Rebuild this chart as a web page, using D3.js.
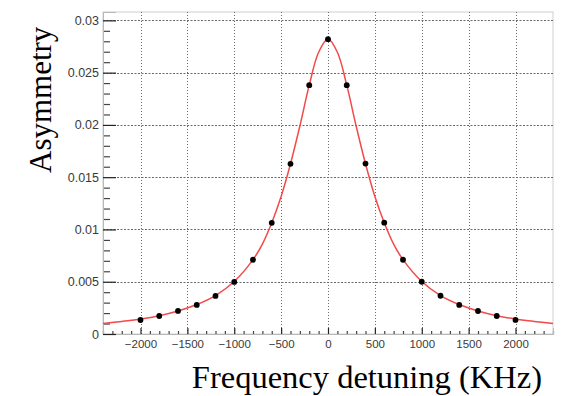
<!DOCTYPE html>
<html>
<head>
<meta charset="utf-8">
<script src="https://cdn.jsdelivr.net/npm/d3@7"></script>
<style>
  body { margin: 0; background: #fff; }
  svg { display: block; }
</style>
</head>
<body>
<div id="chart"></div>
<script>
// measured points (detuning in KHz, asymmetry)
var detuning = [-2000, -1800, -1600, -1400, -1200, -1000, -800, -600, -400, -200, 0,
                200, 400, 600, 800, 1000, 1200, 1400, 1600, 1800, 2000];
var asymmetry = [0.00134, 0.00172, 0.00221, 0.00278, 0.00364, 0.00498, 0.00710, 0.01063, 0.01628, 0.02380, 0.02820,
                 0.02380, 0.01630, 0.01065, 0.00710, 0.00500, 0.00366, 0.00278, 0.00220, 0.00172, 0.00135];

// fitted curve
var fit_x = [-2400, -2200, -2000, -1800, -1600, -1400, -1200, -1000, -800, -700, -600, -500, -400, -300, -200, -100, 0,
             100, 200, 300, 400, 500, 600, 700, 800, 1000, 1200, 1400, 1600, 1800, 2000, 2200, 2400];
var fit_y = [0.00100, 0.00120, 0.00143, 0.00175, 0.00220, 0.00282, 0.00368, 0.00502, 0.00711, 0.00860, 0.01064, 0.01315, 0.01628, 0.01990, 0.02380, 0.02695, 0.02822,
             0.02695, 0.02380, 0.01990, 0.01628, 0.01315, 0.01064, 0.00860, 0.00711, 0.00502, 0.00368, 0.00282, 0.00220, 0.00175, 0.00143, 0.00120, 0.00100];

var x_ticks = [-2000, -1500, -1000, -500, 0, 500, 1000, 1500, 2000];
var x_tick_labels = ['\u22122000', '\u22121500', '\u22121000', '\u2212500', '0', '500', '1000', '1500', '2000'];
var y_ticks = [0, 0.005, 0.01, 0.015, 0.02, 0.025, 0.03];
var y_tick_labels = ['0', '0.005', '0.01', '0.015', '0.02', '0.025', '0.03'];

var chart_width = 561;
var chart_height = 396;
var frame = { left: 103, right: 553, top: 12, bottom: 334 };

var svg = d3.select('#chart')
  .append('svg')
  .attr('width', chart_width)
  .attr('height', chart_height);

svg.append('rect')
  .attr('width', chart_width)
  .attr('height', chart_height)
  .attr('fill', '#fff');

var x_scale = d3.scaleLinear()
  .domain([-2400, 2400])
  .range([frame.left, frame.right]);

var y_scale = d3.scaleLinear()
  .domain([0, 0.0308])
  .range([frame.bottom, frame.top]);

// minor tick values (every 100 / 0.001)
var x_minor = d3.range(-2400, 2401, 100).filter(function(v) { return v % 500 !== 0; });
var y_minor = d3.range(1, 31).map(function(v) { return v / 1000; }).filter(function(v, i) { return (i + 1) % 5 !== 0; });

// frame
svg.append('rect')
  .attr('x', frame.left)
  .attr('y', frame.top)
  .attr('width', frame.right - frame.left)
  .attr('height', frame.bottom - frame.top)
  .attr('fill', 'none')
  .attr('stroke', '#d0d0d0')
  .attr('stroke-width', 1);

// grid
svg.append('g')
  .selectAll('line')
  .data(x_ticks)
  .enter()
  .append('line')
  .attr('x1', function(d) { return Math.round(x_scale(d)) + 0.5; })
  .attr('x2', function(d) { return Math.round(x_scale(d)) + 0.5; })
  .attr('y1', frame.top)
  .attr('y2', frame.bottom)
  .attr('stroke', '#6a6a6a')
  .attr('stroke-width', 1)
  .attr('stroke-dasharray', '1,2');

svg.append('g')
  .selectAll('line')
  .data(y_ticks.slice(1))
  .enter()
  .append('line')
  .attr('x1', frame.left)
  .attr('x2', frame.right)
  .attr('y1', function(d) { return Math.round(y_scale(d)) + 0.5; })
  .attr('y2', function(d) { return Math.round(y_scale(d)) + 0.5; })
  .attr('stroke', '#6a6a6a')
  .attr('stroke-width', 1)
  .attr('stroke-dasharray', '2,1.5');

// axes (ticks point into the frame)
var x_axis = d3.axisBottom(x_scale)
  .tickValues(x_ticks)
  .tickFormat(function(d, i) { return x_tick_labels[i]; })
  .tickSize(-6)
  .tickPadding(6);

var x_minor_axis = d3.axisBottom(x_scale)
  .tickValues(x_minor)
  .tickFormat('')
  .tickSize(-3);

var y_axis = d3.axisLeft(y_scale)
  .tickValues(y_ticks)
  .tickFormat(function(d, i) { return y_tick_labels[i]; })
  .tickSize(-13)
  .tickPadding(4);

var y_minor_axis = d3.axisLeft(y_scale)
  .tickValues(y_minor)
  .tickFormat('')
  .tickSize(-7);

function style_axis(g) {
  g.select('.domain').attr('stroke', '#b8b8b8');
  g.selectAll('.tick line').attr('stroke', '#222').attr('stroke-width', 1.2);
  g.selectAll('.tick text')
    .attr('fill', '#3a3a3a')
    .style('font-family', '"Liberation Sans", Arial, sans-serif');
}

svg.append('g')
  .attr('transform', 'translate(0,' + frame.bottom + ')')
  .call(x_minor_axis)
  .call(style_axis)
  .selectAll('.tick line').attr('stroke', '#444');

svg.append('g')
  .attr('transform', 'translate(0,' + frame.bottom + ')')
  .call(x_axis)
  .call(style_axis)
  .selectAll('.tick text').style('font-size', '11.5px');

svg.append('g')
  .attr('transform', 'translate(' + frame.left + ',0)')
  .call(y_minor_axis)
  .call(style_axis)
  .selectAll('.tick line').attr('stroke', '#444');

svg.append('g')
  .attr('transform', 'translate(' + frame.left + ',0)')
  .call(y_axis)
  .call(style_axis)
  .selectAll('.tick text').style('font-size', '12.5px');

// fit curve
var line = d3.line()
  .x(function(d, i) { return x_scale(fit_x[i]); })
  .y(function(d) { return y_scale(d); })
  .curve(d3.curveCatmullRom.alpha(0.5));

svg.append('path')
  .datum(fit_y)
  .attr('d', line)
  .attr('fill', 'none')
  .attr('stroke', '#f24a4a')
  .attr('stroke-width', 1.5);

// data points
svg.append('g')
  .selectAll('circle')
  .data(asymmetry)
  .enter()
  .append('circle')
  .attr('cx', function(d, i) { return x_scale(detuning[i]); })
  .attr('cy', function(d) { return y_scale(d); })
  .attr('r', 2.9)
  .attr('fill', '#000');

// axis titles
svg.append('text')
  .attr('x', 542)
  .attr('y', 388)
  .attr('text-anchor', 'end')
  .style('font-family', '"Liberation Serif", "Times New Roman", serif')
  .style('font-size', '32.5px')
  .attr('fill', '#000')
  .text('Frequency detuning (KHz)');

svg.append('text')
  .attr('transform', 'translate(51,173) rotate(-90)')
  .attr('text-anchor', 'start')
  .style('font-family', '"Liberation Serif", "Times New Roman", serif')
  .style('font-size', '31px')
  .attr('fill', '#000')
  .text('Asymmetry');
</script>
</body>
</html>
